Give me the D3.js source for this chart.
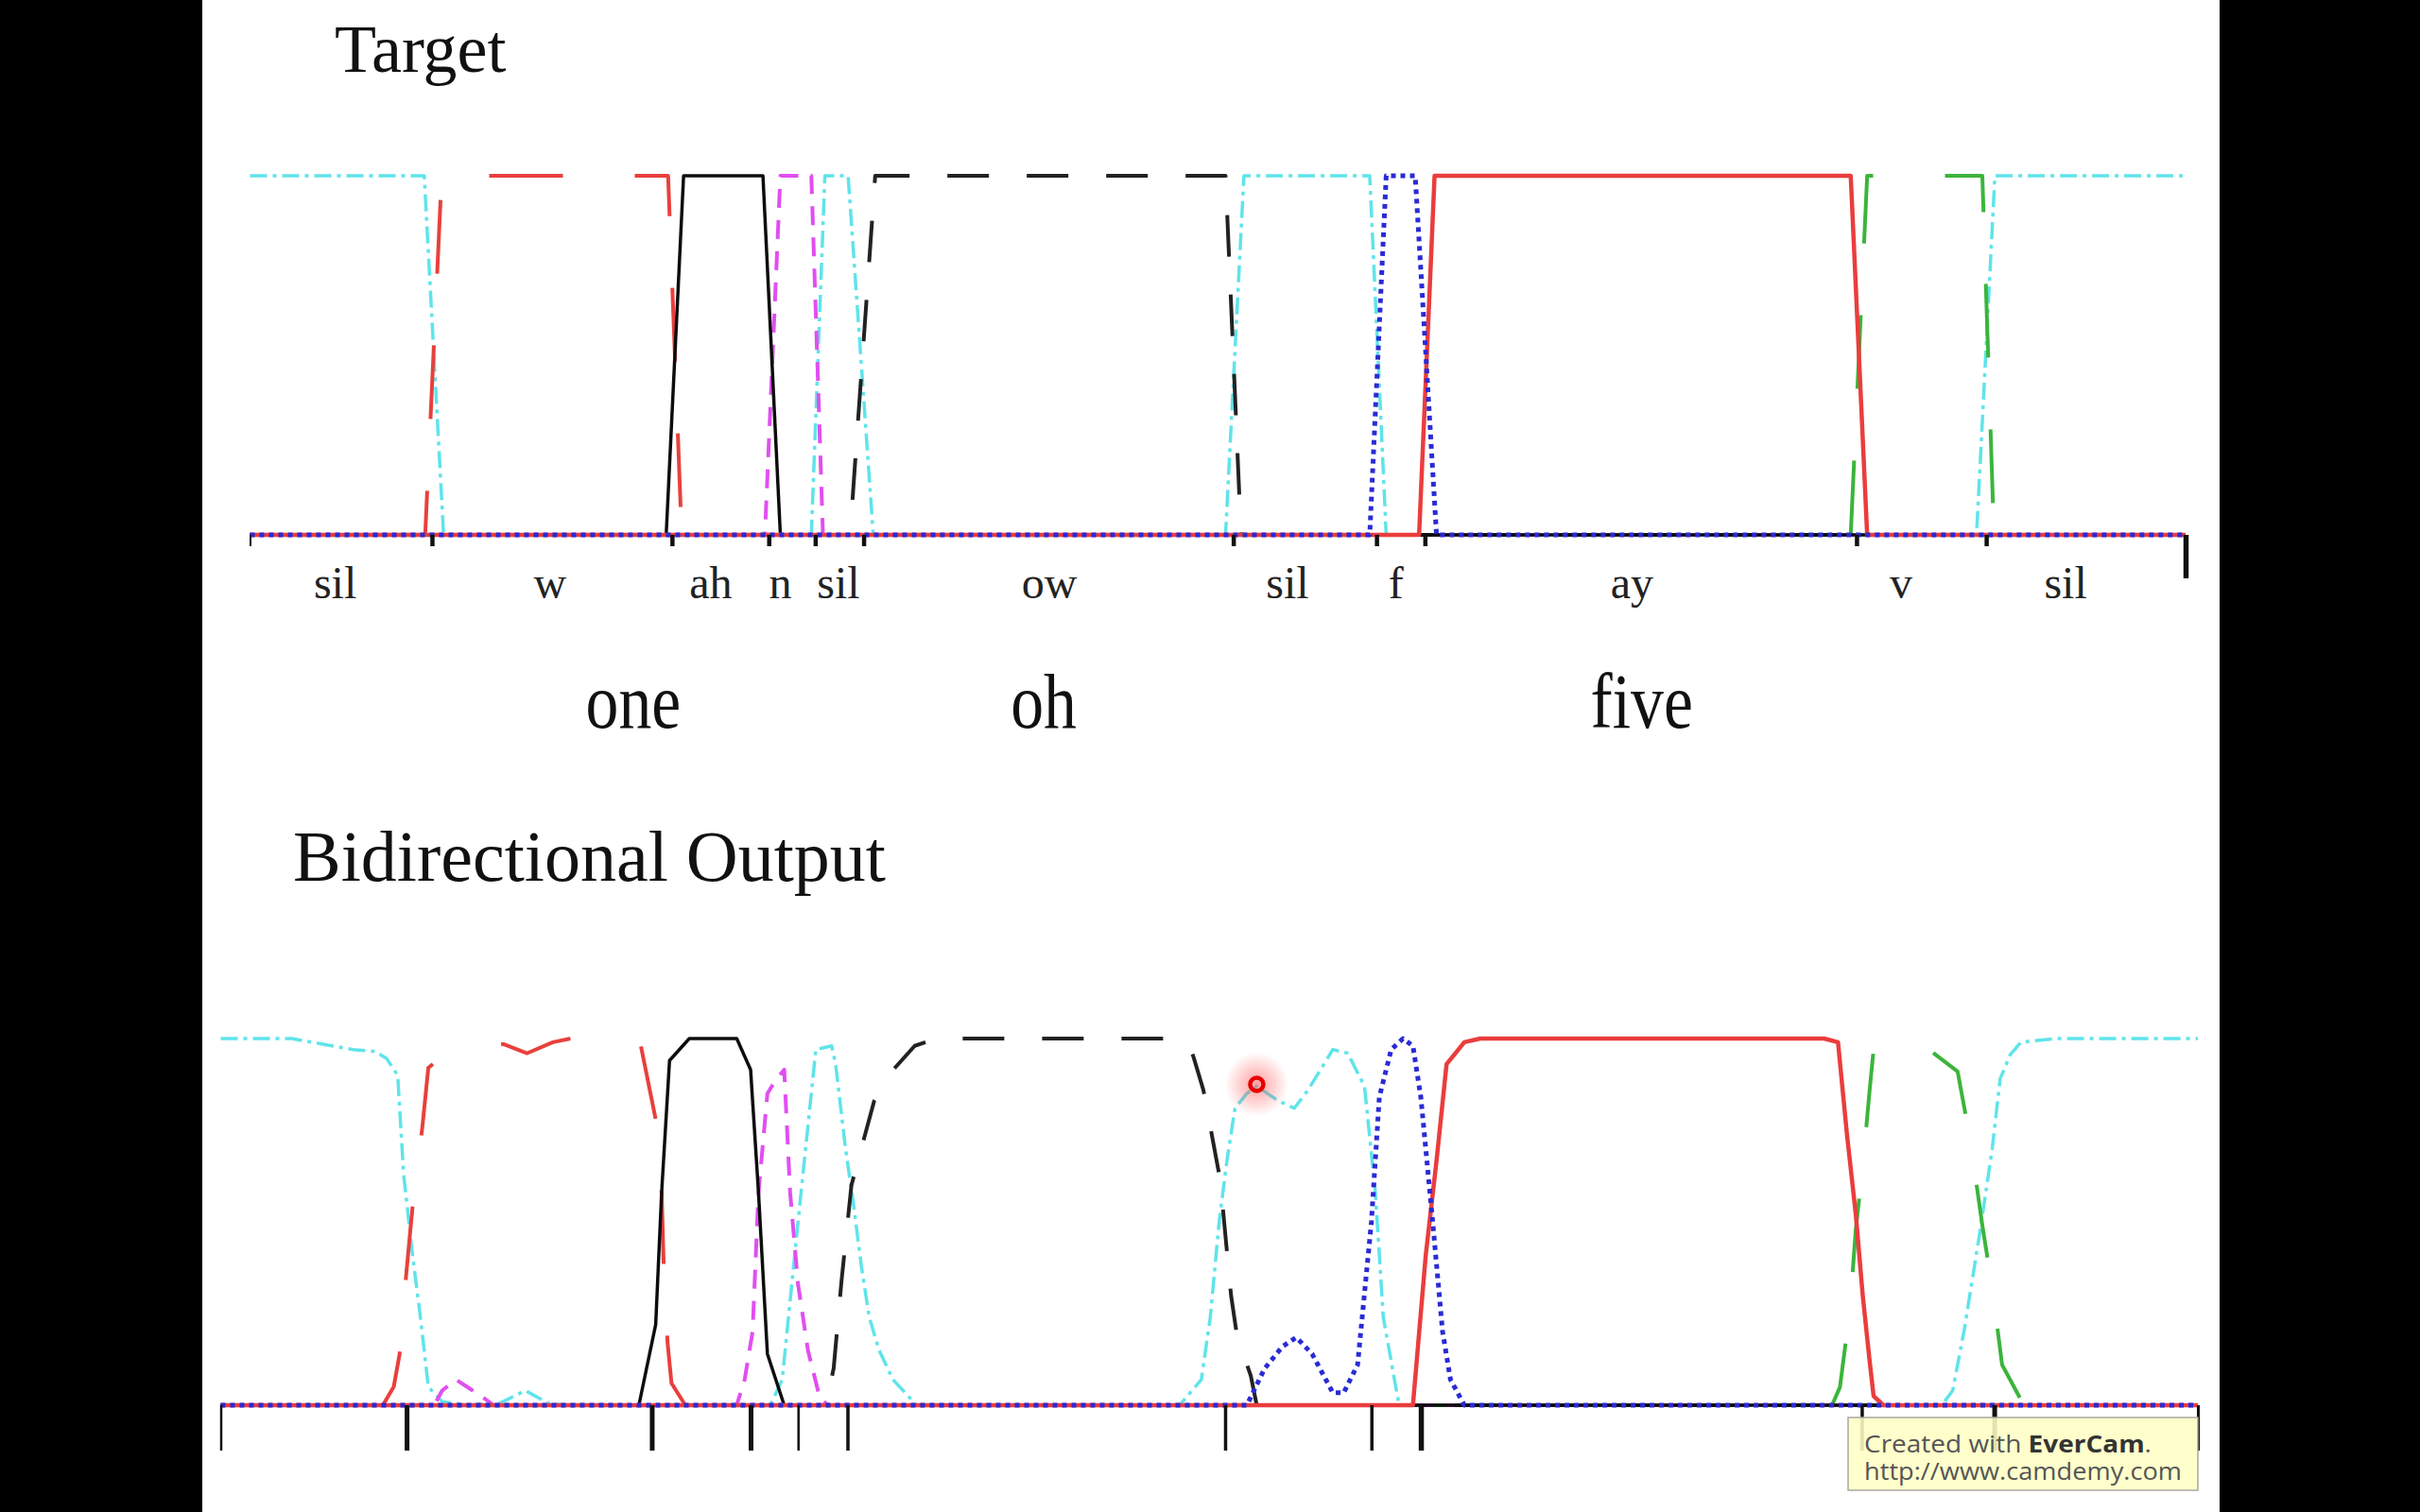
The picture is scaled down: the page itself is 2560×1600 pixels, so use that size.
<!DOCTYPE html>
<html>
<head>
<meta charset="utf-8">
<script src="https://cdn.jsdelivr.net/npm/d3@7"></script>
<style>
  html, body { margin: 0; padding: 0; background: #000; }
  svg { display: block; }
</style>
</head>
<body>
<svg id="chart" width="2560" height="1600"></svg>
<script>
// segmentation of the utterance, time in % of its length
const boundaries  = [0, 9.4, 21.8, 26.8, 29.2, 31.7, 50.8, 58.2, 60.7, 83.0, 89.7, 100]
const phones      = ['sil', 'w', 'ah', 'n', 'sil', 'ow', 'sil', 'f', 'ay', 'v', 'sil']
const phoneLabelT = [4.4, 15.5, 23.8, 27.4, 30.4, 41.3, 53.6, 59.2, 71.4, 85.3, 93.8]
const words       = ['one', 'oh', 'five']
const wordT       = [19.8, 41.0, 71.9]

// Target: [t, activation]
const targetSil = [[0,1],[9.0,1],[10.0,0],[29.0,0],[29.7,1],[30.9,1],[32.2,0],[50.4,0],[51.35,1],[57.85,1],[58.7,0],[89.2,0],[90.15,1],[100,1]]
const targetW   = [[0,0],[9.05,0],[9.9,1],[21.6,1],[22.3,0],[100,0]]
const targetAh  = [[0,0],[21.5,0],[22.4,1],[26.5,1],[27.4,0],[100,0]]
const targetN   = [[0,0],[26.6,0],[27.4,1],[29.0,1],[29.6,0],[100,0]]
const targetOw  = [[0,0],[31.0,0],[32.3,1],[50.4,1],[51.2,0],[100,0]]
const targetF   = [[0,0],[57.85,0],[58.7,1],[60.2,1],[61.3,0],[100,0]]
const targetAy  = [[0,0],[60.4,0],[61.2,1],[82.7,1],[83.55,0],[100,0]]
const targetV   = [[0,0],[82.7,0],[83.55,1],[89.5,1],[90.1,0],[100,0]]

// Bidirectional network output: [t, activation]
const outSil = [[0,1],[3.6,1],[4.6,0.99],[6.7,0.97],[7.8,0.965],[8.4,0.945],[8.95,0.9],[9.25,0.63],[9.7,0.41],[10.1,0.24],[10.5,0.05],
  [11.2,0.01],[12.5,0],[14.1,0.005],[15.4,0.04],[16.6,0.005],[17.5,0],[27.8,0],[28.4,0.07],[29.2,0.5],[30.1,0.97],[30.9,0.98],
  [31.1,0.93],[31.6,0.7],[32.0,0.55],[32.4,0.38],[32.8,0.24],[33.3,0.15],[34.0,0.07],[35.2,0],[48.5,0],[49.6,0.07],[50.05,0.24],
  [50.5,0.5],[50.9,0.67],[51.3,0.81],[51.9,0.85],[52.4,0.87],[53.5,0.83],[54.3,0.81],[55.0,0.86],[56.25,0.97],[57.0,0.96],
  [57.85,0.87],[58.4,0.58],[58.8,0.24],[59.6,0],[87.05,0],[87.6,0.04],[88.2,0.21],[89.0,0.48],[89.6,0.7],[90.0,0.89],
  [90.5,0.955],[91.05,0.99],[92.8,1],[100,1]]
const outW   = [[0,0],[8.2,0],[8.75,0.05],[9.05,0.14],[9.37,0.35],[9.7,0.54],[10.2,0.76],[10.5,0.92],[10.95,0.94],[12.4,0.97],
  [14.3,0.985],[15.5,0.96],[16.8,0.99],[17.7,1],[19.6,1],[21.25,0.98],[22.0,0.78],[22.3,0.58],[22.4,0.39],[22.6,0.17],
  [22.8,0.06],[23.5,0],[100,0]]
const outAh  = [[0,0],[21.15,0],[22.0,0.22],[22.3,0.58],[22.7,0.94],[23.7,1],[26.1,1],[26.8,0.915],[27.2,0.58],[27.65,0.14],[28.5,0],[100,0]]
const outN   = [[0,0],[10.8,0],[11.2,0.04],[11.9,0.07],[12.6,0.045],[13.3,0.02],[13.8,0],[26.1,0],[26.5,0.07],[26.9,0.2],[27.2,0.58],
  [27.65,0.85],[28.1,0.89],[28.5,0.915],[28.8,0.58],[29.2,0.33],[29.7,0.15],[30.3,0.02],[30.7,0],[100,0]]
const outOw  = [[0,0],[30.6,0],[31.0,0.1],[31.4,0.34],[31.9,0.6],[32.5,0.72],[33.05,0.83],[33.6,0.89],[35.1,0.98],[36.2,1],[48.55,1],
  [49.0,0.98],[49.2,0.95],[49.7,0.86],[50.05,0.76],[50.5,0.63],[50.7,0.53],[51.1,0.3],[51.4,0.19],[52.1,0.08],[52.4,0],[100,0]]
const outF   = [[0,0],[51.9,0],[52.8,0.1],[53.7,0.16],[54.4,0.185],[55.2,0.14],[56.25,0.034],[56.8,0.034],[57.5,0.11],[58.2,0.5],
  [58.6,0.84],[59.2,0.97],[59.8,1],[60.3,0.98],[60.7,0.84],[61.3,0.5],[61.8,0.2],[62.2,0.07],[62.9,0],[100,0]]
const outAy  = [[0,0],[60.3,0],[60.95,0.41],[61.5,0.67],[62.0,0.93],[62.9,0.99],[63.7,1],[81.1,1],[81.8,0.99],[82.25,0.74],
  [82.7,0.52],[83.05,0.3],[83.4,0.12],[83.6,0.025],[84.1,0],[100,0]]
const outV   = [[0,0],[81.5,0],[81.9,0.05],[82.4,0.26],[82.7,0.48],[83.05,0.65],[83.4,0.86],[83.6,0.97],[84.1,1],[84.9,1],[86.4,0.97],
  [87.85,0.91],[88.5,0.72],[89.1,0.49],[89.6,0.32],[90.1,0.11],[91.2,0],[100,0]]

// line styles per phone class (drawing order = array order)
const series = [
  { name: 'sil', target: targetSil, output: outSil, color: '#5fe4ea', width: 3.5, dash: '18,6,4,6' },
  { name: 'v',   target: targetV,   output: outV,   color: '#3bb53b', width: 4,   dash: '78,76' },
  { name: 'n',   target: targetN,   output: outN,   color: '#e04ff0', width: 4,   dash: '20,13' },
  { name: 'w',   target: targetW,   output: outW,   color: '#e8413c', width: 4,   dash: '78,76' },
  { name: 'ow',  target: targetOw,  output: outOw,  color: '#222222', width: 4,   dash: '44,40' },
  { name: 'ah',  target: targetAh,  output: outAh,  color: '#111111', width: 3.5, dash: null },
  { name: 'ay',  target: targetAy,  output: outAy,  color: '#ea3c3c', width: 4.5, dash: null },
  { name: 'f',   target: targetF,   output: outF,   color: '#2b2bd6', width: 5,   dash: '5,5' }
]

const svg = d3.select('#chart')
const serif = "'Liberation Serif', 'Times New Roman', serif"

// slight softening, the source is a screen recording
const defs = svg.append('defs')
defs.append('filter').attr('id', 'soft')
  .append('feGaussianBlur').attr('stdDeviation', 0.7)

// black side bands, white slide
svg.append('rect').attr('width', 2560).attr('height', 1600).attr('fill', '#000')
svg.append('rect').attr('x', 214).attr('y', 0).attr('width', 2134).attr('height', 1600).attr('fill', '#fff')

// 1- Target panel
const xTop = d3.scaleLinear().domain([0, 100]).range([264.5, 2312])
const yTop = d3.scaleLinear().domain([0, 1]).range([566, 186])

// 2- Output panel
const xBot = d3.scaleLinear().domain([0, 100]).range([233.5, 2325])
const yBot = d3.scaleLinear().domain([0, 1]).range([1487, 1099])

function drawPanel(g, x, y, key) {
  const line = d3.line().x(d => x(d[0])).y(d => y(d[1]))
  g.selectAll('path.curve').data(series).enter()
    .append('path')
      .attr('class', 'curve')
      .attr('d', d => line(d[key]))
      .attr('fill', 'none')
      .attr('stroke', d => d.color)
      .attr('stroke-width', d => d.width)
      .attr('stroke-dasharray', d => d.dash)
      .attr('stroke-linejoin', 'round')
}

const gTop = svg.append('g').attr('filter', 'url(#soft)')
const gBot = svg.append('g').attr('filter', 'url(#soft)')
drawPanel(gTop, xTop, yTop, 'target')
drawPanel(gBot, xBot, yBot, 'output')

// segment boundary ticks
const topAxis = svg.append('g')
  .attr('transform', `translate(0,${yTop(0)})`)
  .call(d3.axisBottom(xTop).tickValues(boundaries).tickSize(12).tickFormat(''))
topAxis.select('.domain').remove()
topAxis.selectAll('.tick line')
  .attr('stroke', '#111')
  .attr('stroke-width', (d, i) => i === 0 ? 2 : (i === boundaries.length - 1 ? 5.5 : 4.5))
  .attr('y2', (d, i) => i === boundaries.length - 1 ? 46 : 12)

const botTickWidths = [2.5, 5, 5, 5, 2.5, 3.5, 3.5, 3.5, 5.5, 3.5, 5, 3]
const botAxis = svg.append('g')
  .attr('transform', `translate(0,${yBot(0)})`)
  .call(d3.axisBottom(xBot).tickValues(boundaries).tickSize(48).tickFormat(''))
botAxis.select('.domain').remove()
botAxis.selectAll('.tick line')
  .attr('stroke', '#111')
  .attr('stroke-width', (d, i) => botTickWidths[i])

// phone labels
svg.append('g').selectAll('text').data(phones).enter()
  .append('text')
    .attr('x', (d, i) => xTop(phoneLabelT[i]))
    .attr('y', 633)
    .attr('text-anchor', 'middle')
    .attr('font-family', serif)
    .attr('font-size', 48)
    .attr('fill', '#222')
    .text(d => d)

// word labels, slightly condensed like the slide
svg.append('g').selectAll('text').data(words).enter()
  .append('text')
    .attr('x', (d, i) => xTop(wordT[i]))
    .attr('y', 770)
    .attr('text-anchor', 'middle')
    .attr('font-family', serif)
    .attr('font-size', 82)
    .attr('fill', '#111')
    .text(d => d)
    .each(function() {
      const w = this.getComputedTextLength()
      d3.select(this).attr('textLength', w * 0.85).attr('lengthAdjust', 'spacingAndGlyphs')
    })

// panel titles
svg.append('text').attr('x', 354).attr('y', 76)
  .attr('font-family', serif).attr('font-size', 72).attr('fill', '#111').text('Target')
svg.append('text').attr('x', 310).attr('y', 932)
  .attr('font-family', serif).attr('font-size', 76).attr('fill', '#111').text('Bidirectional Output')

// presenter's cursor highlight
const glow = defs.append('radialGradient').attr('id', 'glow')
glow.append('stop').attr('offset', '0%').attr('stop-color', '#ff5050').attr('stop-opacity', 0.55)
glow.append('stop').attr('offset', '100%').attr('stop-color', '#ff5050').attr('stop-opacity', 0)
svg.append('circle').attr('cx', xBot(52.4)).attr('cy', yBot(0.87) - 2).attr('r', 34).attr('fill', 'url(#glow)')
svg.append('circle').attr('cx', xBot(52.4)).attr('cy', yBot(0.87) - 2).attr('r', 7)
  .attr('fill', 'none').attr('stroke', '#e50000').attr('stroke-width', 4.5)

// recorder watermark
const wm = svg.append('g')
wm.append('rect').attr('x', 1955).attr('y', 1500).attr('width', 370).attr('height', 77)
  .attr('fill', '#ffffc4').attr('fill-opacity', 0.88).attr('stroke', '#a8a8a0').attr('stroke-width', 1.5)
const wm1 = wm.append('text').attr('x', 1972).attr('y', 1537)
  .attr('font-family', "'Open Sans', 'DejaVu Sans', sans-serif").attr('font-size', 25).attr('fill', '#555')
  .attr('textLength', 304).attr('lengthAdjust', 'spacingAndGlyphs')
wm1.append('tspan').text('Created with ')
wm1.append('tspan').attr('font-weight', 'bold').attr('fill', '#333').text('EverCam')
wm1.append('tspan').text('.')
wm.append('text').attr('x', 1972).attr('y', 1566)
  .attr('font-family', "'Open Sans', 'DejaVu Sans', sans-serif").attr('font-size', 25).attr('fill', '#555')
  .attr('textLength', 336).attr('lengthAdjust', 'spacingAndGlyphs')
  .text('http://www.camdemy.com')
</script>
</body>
</html>
